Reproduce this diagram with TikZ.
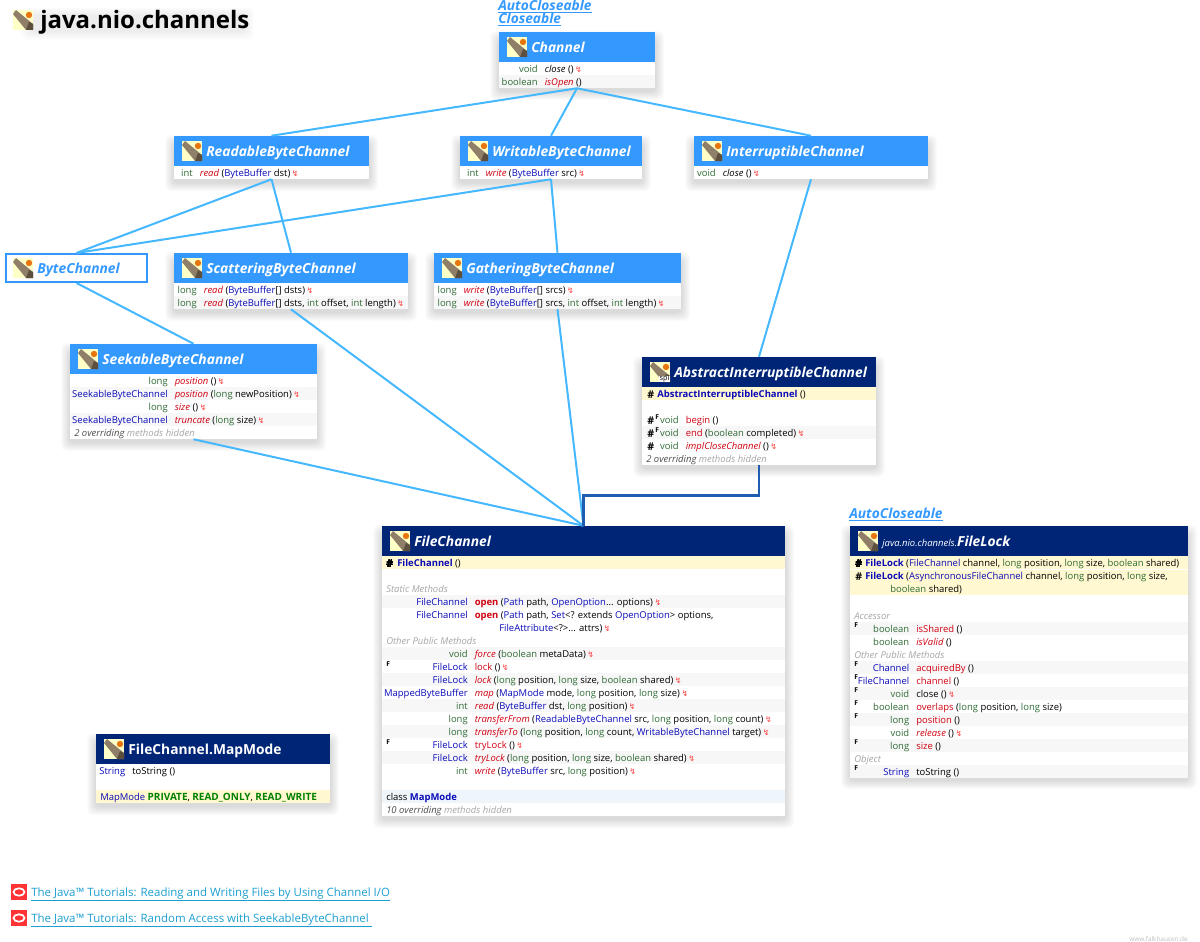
\documentclass[tikz,border=0pt]{standalone}
\usepackage{fontspec}
\setmainfont{Open Sans}
\newfontfamily\symfont{DejaVu Sans}
\usetikzlibrary{calc, fit}

\definecolor{headlight}{HTML}{3399FF}
\definecolor{headdark}{HTML}{002577}
\definecolor{linklight}{HTML}{45B8FF}
\definecolor{linkdark}{HTML}{1F5DB0}
\definecolor{typecol}{HTML}{2F6B35}
\definecolor{classcol}{HTML}{0A0AB8}
\definecolor{methcol}{HTML}{D00010}
\definecolor{bandgray}{HTML}{F7F7F7}
\definecolor{bandyellow}{HTML}{FFF8D0}
\definecolor{bandblue}{HTML}{EEF6FC}
\definecolor{tutorialcol}{HTML}{1C9FD0}
\definecolor{iconyellow}{HTML}{FFFFC8}
\definecolor{iconbrown}{HTML}{8F7F68}
\definecolor{icondark}{HTML}{5C4F3E}
\definecolor{iconorange}{HTML}{E8760F}

\newcommand{\jtype}[1]{\textcolor{typecol}{#1}}
\newcommand{\jclass}[1]{\textcolor{classcol}{#1}}
\newcommand{\jmeth}[1]{\textcolor{methcol}{#1}}
\newcommand{\jabs}[1]{\textcolor{methcol}{\itshape #1}}
\newcommand{\jconst}[1]{\textcolor{green!50!black}{\fontsize{7.5}{9}\selectfont\bfseries #1}}
\newcommand{\jthrows}{\,{\symfont\fontsize{6}{6}\selectfont\textcolor{red!75}{↯}}}
\newcommand{\jhidden}[1]{\textcolor{black!70}{\itshape #1 overriding} \textcolor{black!35}{\itshape methods hidden}}

\tikzset{
  classframe/.style={fill=white, inner sep=0pt},
  headbar/.style={inner sep=0pt},
  headtitle/.style={anchor=base west, inner sep=0pt, text=white, font=\fontsize{10.35}{12}\selectfont\bfseries\itshape},
  rettext/.style={anchor=base east, inner sep=0pt, font=\fontsize{7.1}{9}\selectfont},
  rowtext/.style={anchor=base west, inner sep=0pt, font=\fontsize{7.1}{9}\selectfont},
  grouptext/.style={anchor=base west, inner sep=0pt, text=black!35, font=\fontsize{7.1}{9}\selectfont\itshape},
  finalmark/.style={anchor=base west, inner sep=0pt, font=\fontsize{5}{5}\selectfont\bfseries},
  protmark/.style={anchor=base west, inner sep=0pt, font=\fontsize{8}{9}\selectfont\bfseries},
  superlink/.style={anchor=base west, inner sep=0pt, text=headlight, font=\fontsize{10.3}{11}\selectfont\bfseries\itshape},
  tutorial/.style={anchor=base west, inner sep=0pt, text=tutorialcol, font=\fontsize{8.6}{11}\selectfont},
  basiclink/.style={line width=1.5pt, linklight},
  implink/.style={line width=2.2pt, linkdark},
}

% the class symbol, #1 #2 is its top left corner
\newcommand{\typeicon}[2]{
  \fill[iconyellow] (#1,#2) rectangle ++(20,20);
  \fill[iconbrown] (#1,#2+4) -- (#1+3,#2) -- (#1+20,#2+14) -- (#1+20,#2+20) -- (#1+13,#2+20) -- cycle;
  \fill[icondark] (#1+16,#2+12) -- (#1+20,#2+14) -- (#1+20,#2+20) -- (#1+13,#2+20) -- cycle;
  \fill[iconorange] (#1+16,#2+5) circle (3.2);
}

% left, top, right, bottom, strength
\newcommand{\softshadow}[5]{
  \foreach \s in {1,...,9}
    \fill[black, opacity=#5, rounded corners=4pt] (#1-\s,#2-\s+8) rectangle (#3+\s,#4+\s+3);
}

% name, left, top, right, bottom, header colour, title
\newcommand{\classbox}[7]{
  \softshadow{#2}{#3}{#4}{#5}{.016}
  \node[classframe, fit={(#2,#3) (#4,#5)}] (#1) {};
  \node[headbar, fill=#6, fit={(#2,#3) (#4,#3+30)}] (#1head) {};
  \typeicon{#2+8}{#3+5}
  \node[headtitle] (#1title) at (#2+32,#3+20.5) {#7};
}

% box name, column, top of the row, type, method
\newcommand{\classrow}[5]{
  \node[rettext] (#1ret#3) at (#2,#3+10.3) {#4};
  \node[rowtext] (#1met#3) at (#2+6.5,#3+10.3) {#5};
}
\newcommand{\bandrow}[5]{\fill[#1] (#2,#3) rectangle (#4,#5);}

\begin{document}
\begin{tikzpicture}[x=.75pt, y=-.75pt]
  \useasboundingbox (0,0) rectangle (1200,942);
  \fill[white] (0,0) rectangle (1200,942);

  \softshadow{30}{8}{245}{28}{.008}
  \typeicon{13}{10}
  \node[inner sep=0pt, anchor=base west, font=\fontsize{18}{20}\selectfont\bfseries] (pagetitle) at (40,29) {java.nio.channels};

  \node[superlink] (superauto) at (498,10.5) {\underline{AutoCloseable}};
  \node[superlink] (superclose) at (498,23.5) {\underline{Closeable}};

  % Channel
  \classbox{channel}{499}{32}{655}{88}{headlight}{Channel}
  \bandrow{bandgray}{499}{75}{655}{88}
  \classrow{channel}{538}{62}{\jtype{void}}{\textit{close} ()\jthrows}
  \classrow{channel}{538}{75}{\jtype{boolean}}{\jabs{isOpen} ()}

  % the three below Channel
  \classbox{readable}{174}{136}{369}{179}{headlight}{ReadableByteChannel}
  \classrow{readable}{193}{166}{\jtype{int}}{\jabs{read} (\jclass{ByteBuffer} dst)\jthrows}

  \classbox{writable}{460}{136}{642}{179}{headlight}{WritableByteChannel}
  \classrow{writable}{479}{166}{\jtype{int}}{\jabs{write} (\jclass{ByteBuffer} src)\jthrows}

  \classbox{interruptible}{694}{136}{928}{179}{headlight}{InterruptibleChannel}
  \classrow{interruptible}{716}{166}{\jtype{void}}{\textit{close} ()\jthrows}

  % ByteChannel has only a frame
  \node[fill=white, draw=headlight, line width=1.5pt, inner sep=0pt, fit={(6,254) (147,282)}] (bytechannel) {};
  \typeicon{13}{258}
  \node[headtitle, text=headlight] (bytechanneltitle) at (37,273.5) {ByteChannel};

  \classbox{scattering}{174}{253}{408}{309}{headlight}{ScatteringByteChannel}
  \bandrow{bandgray}{174}{296}{408}{309}
  \classrow{scattering}{197}{283}{\jtype{long}}{\jabs{read} (\jclass{ByteBuffer}[] dsts)\jthrows}
  \classrow{scattering}{197}{296}{\jtype{long}}{\jabs{read} (\jclass{ByteBuffer}[] dsts, \jtype{int} offset, \jtype{int} length)\jthrows}

  \classbox{gathering}{434}{253}{681}{309}{headlight}{GatheringByteChannel}
  \bandrow{bandgray}{434}{296}{681}{309}
  \classrow{gathering}{457}{283}{\jtype{long}}{\jabs{write} (\jclass{ByteBuffer}[] srcs)\jthrows}
  \classrow{gathering}{457}{296}{\jtype{long}}{\jabs{write} (\jclass{ByteBuffer}[] srcs, \jtype{int} offset, \jtype{int} length)\jthrows}

  % SeekableByteChannel
  \classbox{seekable}{70}{344}{317}{439}{headlight}{SeekableByteChannel}
  \bandrow{bandgray}{70}{387}{317}{400}
  \bandrow{bandgray}{70}{413}{317}{426}
  \classrow{seekable}{168}{374}{\jtype{long}}{\jabs{position} ()\jthrows}
  \classrow{seekable}{168}{387}{\jclass{SeekableByteChannel}}{\jabs{position} (\jtype{long} newPosition)\jthrows}
  \classrow{seekable}{168}{400}{\jtype{long}}{\jabs{size} ()\jthrows}
  \classrow{seekable}{168}{413}{\jclass{SeekableByteChannel}}{\jabs{truncate} (\jtype{long} size)\jthrows}
  \node[rowtext] (seekablehidden) at (74,436.3) {\jhidden{2}};

  % AbstractInterruptibleChannel
  \classbox{abstract}{642}{357}{876}{465}{headdark}{AbstractInterruptibleChannel}
  \fill[white] (659,376) rectangle (670,382);
  \node[inner sep=0pt, font=\fontsize{5.5}{6}\selectfont] (abstractspi) at (664.5,379) {spi};
  \bandrow{bandyellow}{642}{387}{876}{400}
  \bandrow{bandgray}{642}{426}{876}{439}
  \node[protmark] (abstractprot) at (647,398) {\#};
  \node[rowtext] (abstractctor) at (657,397.3) {\jclass{\bfseries AbstractInterruptibleChannel} ()};
  \classrow{abstract}{679}{413}{\jtype{void}}{\jmeth{begin} ()}
  \classrow{abstract}{679}{426}{\jtype{void}}{\jmeth{end} (\jtype{boolean} completed)\jthrows}
  \classrow{abstract}{679}{439}{\jtype{void}}{\jabs{implCloseChannel} ()\jthrows}
  \node[protmark] (abstractprota) at (647,424) {\#};
  \node[finalmark] (abstractfa) at (655,419) {F};
  \node[protmark] (abstractprotb) at (647,437) {\#};
  \node[finalmark] (abstractfb) at (655,432) {F};
  \node[protmark] (abstractprotc) at (647,450) {\#};
  \node[rowtext] (abstracthidden) at (646,462.3) {\jhidden{2}};

  % FileChannel
  \classbox{filechannel}{382}{526}{785}{816}{headdark}{FileChannel}
  \bandrow{bandyellow}{382}{556}{785}{569}
  \foreach \t in {595,647,673,699,725,751}
    \bandrow{bandgray}{382}{\t}{785}{\t+13}
  \bandrow{bandblue}{382}{790}{785}{803}
  \node[protmark] (filechannelprot) at (386,567) {\#};
  \node[rowtext] (filechannelctor) at (397,566.3) {\jclass{\bfseries FileChannel} ()};
  \node[grouptext] (filestatic) at (386,592.5) {Static Methods};
  \classrow{filechannel}{468}{595}{\jclass{FileChannel}}{\jmeth{\bfseries open} (\jclass{Path} path, \jclass{OpenOption}... options)\jthrows}
  \classrow{filechannel}{468}{608}{\jclass{FileChannel}}{\jmeth{\bfseries open} (\jclass{Path} path, \jclass{Set}<? extends \jclass{OpenOption}> options,}
  \node[rowtext] (fileopencont) at (499,631.3) {\jclass{FileAttribute}<?>... attrs)\jthrows};
  \node[grouptext] (fileother) at (386,644.5) {Other Public Methods};
  \classrow{filechannel}{468}{647}{\jtype{void}}{\jabs{force} (\jtype{boolean} metaData)\jthrows}
  \classrow{filechannel}{468}{660}{\jclass{FileLock}}{\jmeth{lock} ()\jthrows}
  \classrow{filechannel}{468}{673}{\jclass{FileLock}}{\jabs{lock} (\jtype{long} position, \jtype{long} size, \jtype{boolean} shared)\jthrows}
  \classrow{filechannel}{468}{686}{\jclass{MappedByteBuffer}}{\jabs{map} (\jclass{MapMode} mode, \jtype{long} position, \jtype{long} size)\jthrows}
  \classrow{filechannel}{468}{699}{\jtype{int}}{\jabs{read} (\jclass{ByteBuffer} dst, \jtype{long} position)\jthrows}
  \classrow{filechannel}{468}{712}{\jtype{long}}{\jabs{transferFrom} (\jclass{ReadableByteChannel} src, \jtype{long} position, \jtype{long} count)\jthrows}
  \classrow{filechannel}{468}{725}{\jtype{long}}{\jabs{transferTo} (\jtype{long} position, \jtype{long} count, \jclass{WritableByteChannel} target)\jthrows}
  \classrow{filechannel}{468}{738}{\jclass{FileLock}}{\jmeth{tryLock} ()\jthrows}
  \classrow{filechannel}{468}{751}{\jclass{FileLock}}{\jabs{tryLock} (\jtype{long} position, \jtype{long} size, \jtype{boolean} shared)\jthrows}
  \classrow{filechannel}{468}{764}{\jtype{int}}{\jabs{write} (\jclass{ByteBuffer} src, \jtype{long} position)\jthrows}
  \node[finalmark] (filefa) at (386,666) {F};
  \node[finalmark] (filefb) at (386,744) {F};
  \node[rowtext] (fileinner) at (386,800.3) {class \jclass{\bfseries MapMode}};
  \node[rowtext] (filehidden) at (386,813.3) {\jhidden{10}};

  % FileLock
  \node[superlink] (lockauto) at (849,518) {\underline{AutoCloseable}};
  \classbox{filelock}{850}{526}{1188}{777}{headdark}{\textmd{\fontsize{7.1}{9}\selectfont java.nio.channels.}FileLock}
  \bandrow{bandyellow}{850}{556}{1188}{569}
  \bandrow{bandyellow}{850}{570}{1188}{595}
  \foreach \t in {622,661,687,713,739,765}
    \bandrow{bandgray}{850}{\t}{1188}{\t+13}
  \node[protmark] (lockprota) at (855,567) {\#};
  \node[rowtext] (lockctora) at (865,566.3) {\jclass{\bfseries FileLock} (\jclass{FileChannel} channel, \jtype{long} position, \jtype{long} size, \jtype{boolean} shared)};
  \node[protmark] (lockprotb) at (855,580) {\#};
  \node[rowtext] (lockctorb) at (865,579.3) {\jclass{\bfseries FileLock} (\jclass{AsynchronousFileChannel} channel, \jtype{long} position, \jtype{long} size,};
  \node[rowtext] (lockctorcont) at (890,592.3) {\jtype{boolean} shared)};
  \node[grouptext] (lockaccessor) at (854,619.5) {Accessor};
  \classrow{filelock}{909.5}{622}{\jtype{boolean}}{\jmeth{isShared} ()}
  \classrow{filelock}{909.5}{635}{\jtype{boolean}}{\jabs{isValid} ()}
  \node[grouptext] (lockother) at (854,658.5) {Other Public Methods};
  \classrow{filelock}{909.5}{661}{\jclass{Channel}}{\jmeth{acquiredBy} ()}
  \classrow{filelock}{909.5}{674}{\jclass{FileChannel}}{\jmeth{channel} ()}
  \classrow{filelock}{909.5}{687}{\jtype{void}}{close ()\jthrows}
  \classrow{filelock}{909.5}{700}{\jtype{boolean}}{\jmeth{overlaps} (\jtype{long} position, \jtype{long} size)}
  \classrow{filelock}{909.5}{713}{\jtype{long}}{\jmeth{position} ()}
  \classrow{filelock}{909.5}{726}{\jtype{void}}{\jabs{release} ()\jthrows}
  \classrow{filelock}{909.5}{739}{\jtype{long}}{\jmeth{size} ()}
  \node[grouptext] (lockobject) at (854,762.5) {Object};
  \classrow{filelock}{909.5}{765}{\jclass{String}}{toString ()}
  \foreach \t/\u in {627/a,666/b,679/c,692/d,705/e,718/f,744/g,770/h}
    \node[finalmark] (lockfinal\u) at (854,\t) {F};

  % FileChannel.MapMode
  \classbox{mapmode}{96}{734}{330}{803}{headdark}{\textup{FileChannel.MapMode}}
  \bandrow{bandyellow}{96}{790}{330}{803}
  \classrow{mapmode}{125.5}{764}{\jclass{String}}{toString ()}
  \node[rowtext] (mapmodeconst) at (100,800.3) {\jclass{MapMode} \jconst{PRIVATE}, \jconst{READ\_ONLY}, \jconst{READ\_WRITE}};

  % tutorials
  \foreach \t/\u in {884/tutorialicona, 910/tutorialiconb} {
    \node[fill=red!80, inner sep=0pt, fit={(11,\t) (27,\t+16)}] (\u) {};
    \draw[white, line width=1.3pt] (\u) ellipse (5.5 and 3.7);
  }
  \node[tutorial] (tutoriala) at (31,896) {\underline{The Java™ Tutorials: Reading and Writing Files by Using Channel I/O}};
  \node[tutorial] (tutorialb) at (31,922) {\underline{The Java™ Tutorials: Random Access with SeekableByteChannel\ }};
  \node[anchor=base east, inner sep=0pt, text=black!25, font=\fontsize{4.8}{6}\selectfont] (credit) at (1188,941) {www.falkhausen.de};

  % connectors
  \draw[basiclink] (channel.south) -- (readable.north);
  \draw[basiclink] (channel.south) -- (writable.north);
  \draw[basiclink] (channel.south) -- (interruptible.north);
  \draw[basiclink] (readable.south) -- (bytechannel.north);
  \draw[basiclink] (readable.south) -- (scattering.north);
  \draw[basiclink] (writable.south) -- (bytechannel.north);
  \draw[basiclink] (writable.south) -- (gathering.north);
  \draw[basiclink] (interruptible.south) -- (abstract.north);
  \draw[basiclink] (bytechannel.south) -- (seekable.north);
  \draw[basiclink] (scattering.south) -- (filechannel.north);
  \draw[basiclink] (gathering.south) -- (filechannel.north);
  \draw[basiclink] (seekable.south) -- (filechannel.north);
  \draw[implink] (abstract.south) -- ++(0,30) -| (filechannel.north);
\end{tikzpicture}
\end{document}
